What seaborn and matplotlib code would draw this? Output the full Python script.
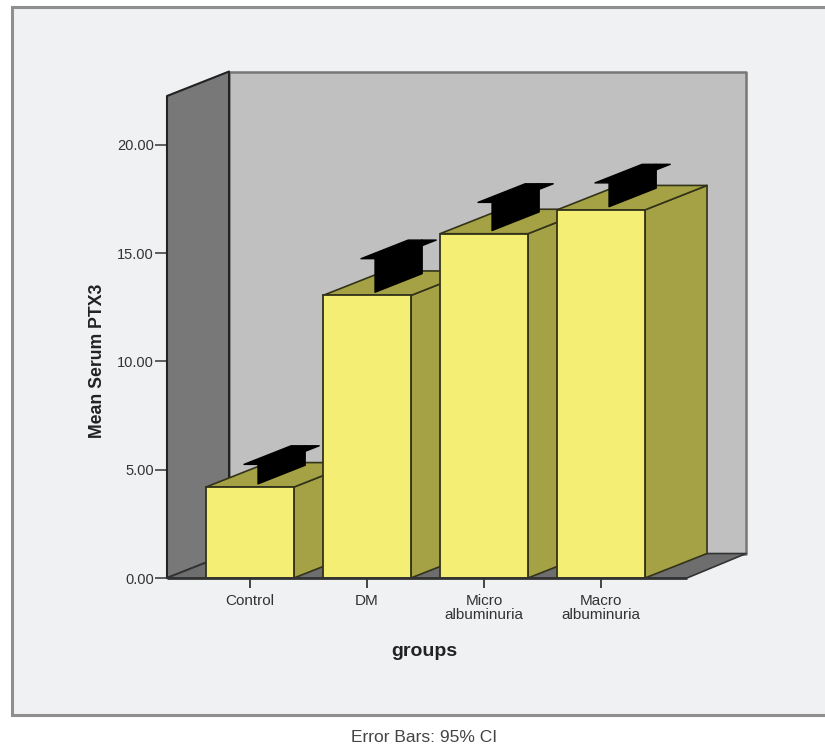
"""
Mean serum PTX3 by group, drawn as a 3D-looking bar chart.
Front faces come from seaborn, depth faces are built from the bar geometry.
"""
import matplotlib
matplotlib.use('Agg')

import matplotlib.pyplot as plt
import seaborn as sns
from matplotlib.patches import Polygon, Rectangle

groups = ['Control', 'DM', 'Micro\nalbuminuria', 'Macro\nalbuminuria']
mean_ptx3 = [4.2, 13.05, 15.9, 17.0]
ci_upper = [5.1, 14.6, 17.2, 18.1]
y_ticks = [0, 5, 10, 15, 20]
y_tick_labels = ['0.00', '5.00', '10.00', '15.00', '20.00']

FRONT = '#f5ee75'
SIDE = '#a5a245'
EDGE = '#33321a'

# data units per full step of depth
DEPTH_X = 0.53
DEPTH_Y = 1.13

sns.set_style('white')
plt.rcParams['font.family'] = ['Liberation Sans', 'DejaVu Sans']


def deep(x, y, d=1.0):
    return (x + d * DEPTH_X, y + d * DEPTH_Y)


def face(ax, pts, color, edge=EDGE, lw=1.2, z=1):
    ax.add_patch(Polygon(pts, closed=True, facecolor=color, edgecolor=edge,
                         linewidth=lw, zorder=z, clip_on=False,
                         joinstyle='round'))


fig = plt.figure(figsize=(8.25, 7.48), dpi=100, facecolor='white')
fig.add_artist(Rectangle((12 / 825, 33 / 748), 830 / 825, 708 / 748,
                         transform=fig.transFigure, facecolor='#f0f1f3',
                         edgecolor='#8f8f8f', linewidth=2.2, zorder=-5))

ax = fig.add_axes([167 / 825, 170 / 748, 520 / 825, 482 / 748])
sns.barplot(x=groups, y=mean_ptx3, color=FRONT, saturation=1, width=0.752,
            edgecolor=EDGE, linewidth=1.3, ax=ax)
ax.set_xlim(-0.709, 3.735)
ax.set_ylim(0, 22.26)
ax.patch.set_visible(False)
sns.despine(ax=ax, left=True, bottom=True, top=True, right=True)

# walls and floor, the back wall stops a little short of the front axis end
x0, x1 = ax.get_xlim()
y0, y1 = ax.get_ylim()
x1_back = x1 - 0.025
face(ax, [deep(x0, y0), deep(x1_back, y0), deep(x1_back, y1), deep(x0, y1)],
     '#c0c0c0', edge='#777777', lw=1.8, z=0.5)
face(ax, [(x0, y0), deep(x0, y0), deep(x0, y1), (x0, y1)],
     '#787878', edge='#222222', lw=1.5, z=0.6)
face(ax, [(x0, y0), (x1, y0), deep(x1_back, y0), deep(x0, y0)],
     '#6e6e6e', edge='#333333', lw=1.2, z=0.7)

# depth faces and error bars, left to right so each bar hides the one before
for i, (bar, top) in enumerate(zip(ax.patches, ci_upper)):
    z = 2 + i
    left, right = bar.get_x(), bar.get_x() + bar.get_width()
    h = bar.get_height()
    mid = (left + right) / 2
    bar.set_zorder(z + 0.5)
    bar.set_clip_on(False)
    face(ax, [(right, 0), deep(right, 0), deep(right, h), (right, h)], SIDE, z=z)
    face(ax, [(left, h), (right, h), deep(right, h), deep(left, h)], SIDE, z=z)
    near, far = 0.13, 0.89
    face(ax, [deep(mid, h, near), deep(mid, top, near),
              deep(mid, top, far), deep(mid, h, far)],
         'black', edge='black', lw=1, z=z + 0.6)
    cap = 0.12
    face(ax, [deep(mid - cap, top, near), deep(mid + cap, top, near),
              deep(mid + cap, top, far), deep(mid - cap, top, far)],
         'black', edge='black', lw=1, z=z + 0.7)

ax.plot([x0, x1], [0, 0], color='#333333', lw=2, zorder=20, clip_on=False,
        solid_capstyle='butt')

ax.set_yticks(y_ticks)
ax.set_yticklabels(y_tick_labels)
ax.tick_params(axis='y', left=True, length=8.5, width=1.2, color='#444444',
               labelsize=10.5, labelcolor='#333333', pad=1)
ax.tick_params(axis='x', bottom=True, length=7.5, width=1.4, color='#444444',
               labelsize=11, labelcolor='#333333', pad=4)
for label in ax.get_xticklabels():
    label.set_linespacing(1.0)

ax.set_ylabel('')
ax.set_xlabel('')
fig.text(97 / 825, 1 - 361 / 748, 'Mean Serum PTX3', rotation=90, ha='center',
         va='center', fontsize=12.7, fontweight='bold', color='#222222')
fig.text(424 / 825, 1 - 651 / 748, 'groups', ha='center', va='center',
         fontsize=14, fontweight='bold', color='#222222')
fig.text(424 / 825, 1 - 737 / 748, 'Error Bars: 95% CI', ha='center',
         va='center', fontsize=12.5, color='#444444')

fig.savefig('out.png', dpi=100)
plt.close(fig)
